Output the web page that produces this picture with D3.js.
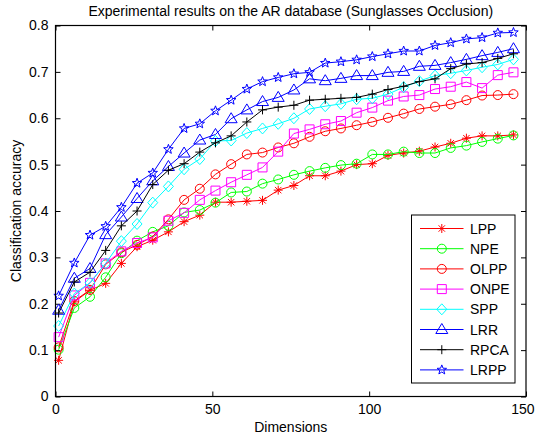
<!DOCTYPE html>
<html>
<head>
<meta charset="utf-8">
<script src="https://cdn.jsdelivr.net/npm/d3@7"></script>
<style>
  body { margin: 0; background: #fff; }
  text { font-family: "Liberation Sans", Arial, sans-serif; fill: #000; }
</style>
</head>
<body>
<div id="chart"></div>
<script>
// dimensions used in the experiment
const dims = [1, 6, 11, 16, 21, 26, 31, 36, 41, 46, 51, 56, 61, 66, 71,
              76, 81, 86, 91, 96, 101, 106, 111, 116, 121, 126, 131, 136, 141, 146];

// accuracy per method
const lpp  = [0.078,0.204,0.229,0.244,0.287,0.323,0.337,0.355,0.377,0.391,0.419,0.419,0.421,0.423,0.445,
              0.455,0.476,0.476,0.486,0.500,0.502,0.520,0.525,0.529,0.538,0.546,0.557,0.562,0.562,0.564];
const npe  = [0.101,0.191,0.215,0.257,0.309,0.336,0.355,0.368,0.397,0.402,0.418,0.440,0.442,0.459,0.468,
              0.478,0.486,0.493,0.499,0.502,0.522,0.522,0.528,0.525,0.525,0.536,0.541,0.549,0.556,0.563];
const olpp = [0.106,0.206,0.230,0.285,0.311,0.327,0.345,0.382,0.424,0.448,0.479,0.501,0.522,0.526,0.537,
              0.546,0.560,0.572,0.578,0.585,0.592,0.601,0.610,0.620,0.625,0.630,0.639,0.649,0.650,0.652];
const onpe = [0.128,0.218,0.245,0.287,0.313,0.331,0.343,0.379,0.396,0.424,0.444,0.462,0.478,0.494,0.528,
              0.567,0.576,0.587,0.594,0.612,0.623,0.638,0.647,0.650,0.663,0.668,0.678,0.665,0.693,0.699];
const spp  = [0.152,0.222,0.245,0.287,0.335,0.372,0.418,0.453,0.490,0.512,0.551,0.552,0.568,0.578,0.588,
              0.600,0.620,0.626,0.631,0.641,0.643,0.652,0.667,0.680,0.692,0.697,0.703,0.710,0.716,0.727];
const lrr  = [0.186,0.255,0.276,0.349,0.387,0.427,0.465,0.496,0.525,0.553,0.565,0.599,0.618,0.636,0.645,
              0.661,0.685,0.681,0.686,0.692,0.692,0.699,0.701,0.712,0.714,0.720,0.727,0.735,0.742,0.750];
const rpca = [0.180,0.247,0.268,0.315,0.368,0.400,0.457,0.488,0.502,0.527,0.547,0.562,0.592,0.618,0.624,
              0.628,0.639,0.641,0.643,0.645,0.652,0.662,0.669,0.679,0.685,0.707,0.717,0.720,0.729,0.739];
const lrpp = [0.217,0.288,0.348,0.367,0.408,0.460,0.482,0.533,0.578,0.588,0.616,0.639,0.663,0.679,0.688,
              0.696,0.699,0.719,0.722,0.726,0.733,0.739,0.745,0.745,0.757,0.763,0.771,0.774,0.784,0.785];

const methods = ["LPP", "NPE", "OLPP", "ONPE", "SPP", "LRR", "RPCA", "LRPP"];
const seriesValues = [lpp, npe, olpp, onpe, spp, lrr, rpca, lrpp];
const colors = ["#ff0000", "#00ff00", "#ff0000", "#ff00ff", "#00ffff", "#0000ff", "#000000", "#0000ff"];
const markers = ["asterisk", "circle", "circle", "square", "diamond", "triangle", "plus", "pentagram"];

const xTicks = [0, 50, 100, 150];
const yTicks = [0, 0.1, 0.2, 0.3, 0.4, 0.5, 0.6, 0.7, 0.8];

const title = "Experimental results on the AR database (Sunglasses Occlusion)";
const xLabel = "Dimensions";
const yLabel = "Classification accuracy";

function init() {
    const width = 535;
    const height = 437;
    const fontSize = 14;
    const plot = { left: 55.5, right: 526, top: 25.5, bottom: 396.5 };

    const svg = d3.select("#chart")
        .append("svg")
        .attr("width", width)
        .attr("height", height)
        .style("display", "block");

    const x = d3.scaleLinear().domain([0, 150]).range([plot.left, plot.right]);
    const y = d3.scaleLinear().domain([0, 0.8]).range([plot.bottom, plot.top]);

    // marker shapes, drawn around (0,0)
    function markerPath(type) {
        const p = d3.path();
        if (type === "circle") {
            p.arc(0, 0, 4.5, 0, 2 * Math.PI);
        } else if (type === "square") {
            p.rect(-4.5, -4.5, 9, 9);
        } else if (type === "diamond") {
            p.moveTo(0, -5.5); p.lineTo(5, 0); p.lineTo(0, 5.5); p.lineTo(-5, 0); p.closePath();
        } else if (type === "triangle") {
            p.moveTo(0, -6); p.lineTo(6, 4); p.lineTo(-6, 4); p.closePath();
        } else if (type === "plus") {
            p.moveTo(-4.5, 0); p.lineTo(4.5, 0); p.moveTo(0, -4.5); p.lineTo(0, 4.5);
        } else if (type === "asterisk") {
            p.moveTo(-4.5, 0); p.lineTo(4.5, 0); p.moveTo(0, -4.5); p.lineTo(0, 4.5);
            p.moveTo(-3.2, -3.2); p.lineTo(3.2, 3.2); p.moveTo(-3.2, 3.2); p.lineTo(3.2, -3.2);
        } else if (type === "pentagram") {
            const R = 5, r = 2.1;
            for (let i = 0; i < 10; i++) {
                const a = -Math.PI / 2 + i * Math.PI / 5;
                const rr = i % 2 === 0 ? R : r;
                if (i === 0) p.moveTo(rr * Math.cos(a), rr * Math.sin(a));
                else p.lineTo(rr * Math.cos(a), rr * Math.sin(a));
            }
            p.closePath();
        }
        return p.toString();
    }

    svg.append("rect")
        .attr("width", width).attr("height", height)
        .attr("fill", "#fff");

    // axes with inward ticks
    const gx = svg.append("g")
        .attr("transform", `translate(0,${plot.bottom})`)
        .call(d3.axisBottom(x).tickValues(xTicks).tickSize(-5).tickPadding(8).tickFormat(d3.format("d")));
    const gxTop = svg.append("g")
        .attr("transform", `translate(0,${plot.top})`)
        .call(d3.axisTop(x).tickValues(xTicks).tickSize(-5).tickFormat(""));
    const gy = svg.append("g")
        .attr("transform", `translate(${plot.left},0)`)
        .call(d3.axisLeft(y).tickValues(yTicks).tickSize(-5).tickPadding(7)
            .tickFormat(d => d === 0 ? "0" : d3.format(".1f")(d)));
    const gyRight = svg.append("g")
        .attr("transform", `translate(${plot.right},0)`)
        .call(d3.axisRight(y).tickValues(yTicks).tickSize(-5).tickFormat(""));

    [gx, gxTop, gy, gyRight].forEach(g => {
        g.select(".domain").remove();
        g.selectAll(".tick line").attr("stroke", "#000");
        g.selectAll("text").attr("font-size", fontSize).attr("fill", "#000")
            .style("font-family", "'Liberation Sans', Arial, sans-serif");
    });

    // last x label would run off the page edge, keep it inside
    gx.selectAll(".tick text")
        .filter(d => d === 150)
        .attr("text-anchor", "end")
        .attr("x", width - 1 - x(150));

    // series
    const line = d3.line()
        .x((d, i) => x(dims[i]))
        .y(d => y(d));

    seriesValues.forEach((vals, k) => {
        const g = svg.append("g");
        g.append("path")
            .attr("d", line(vals))
            .attr("fill", "none")
            .attr("stroke", colors[k])
            .attr("stroke-width", 1);
        g.selectAll("path.mk")
            .data(vals)
            .enter()
            .append("path")
            .attr("class", "mk")
            .attr("transform", (d, i) => `translate(${x(dims[i])},${y(d)})`)
            .attr("d", markerPath(markers[k]))
            .attr("fill", "none")
            .attr("stroke", colors[k])
            .attr("stroke-width", 1);
    });

    // box
    svg.append("rect")
        .attr("x", plot.left).attr("y", plot.top)
        .attr("width", plot.right - plot.left)
        .attr("height", plot.bottom - plot.top)
        .attr("fill", "none")
        .attr("stroke", "#000")
        .attr("stroke-width", 1.2);

    // title and labels
    svg.append("text")
        .attr("x", (plot.left + plot.right) / 2)
        .attr("y", 16)
        .attr("text-anchor", "middle")
        .attr("font-size", fontSize)
        .text(title);

    svg.append("text")
        .attr("x", (plot.left + plot.right) / 2)
        .attr("y", 432)
        .attr("text-anchor", "middle")
        .attr("font-size", fontSize)
        .text(xLabel);

    svg.append("text")
        .attr("transform", `translate(21,${(plot.top + plot.bottom) / 2}) rotate(-90)`)
        .attr("text-anchor", "middle")
        .attr("font-size", fontSize)
        .text(yLabel);

    // legend
    const legend = svg.append("g").attr("transform", "translate(411.5,215)");
    legend.append("rect")
        .attr("width", 103.5).attr("height", 168)
        .attr("fill", "#fff")
        .attr("stroke", "#000");

    const items = legend.selectAll(".legend-item")
        .data(methods)
        .enter()
        .append("g")
        .attr("class", "legend-item")
        .attr("transform", (d, i) => `translate(0,${13.5 + i * 20.2})`);

    items.append("line")
        .attr("x1", 8.5).attr("x2", 52)
        .attr("stroke", (d, i) => colors[i]);
    items.append("path")
        .attr("transform", "translate(30.3,0)")
        .attr("d", (d, i) => markerPath(markers[i]))
        .attr("fill", "none")
        .attr("stroke", (d, i) => colors[i]);
    items.append("text")
        .attr("x", 58.5)
        .attr("dy", "0.36em")
        .attr("font-size", fontSize)
        .text(d => d);
}

window.onload = init;
</script>
</body>
</html>
